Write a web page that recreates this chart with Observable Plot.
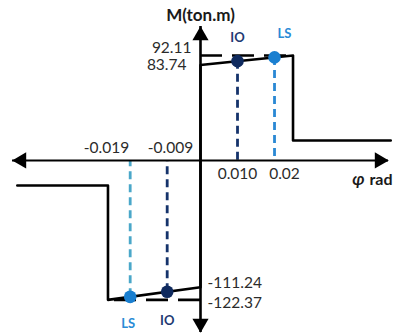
<!DOCTYPE html>
<html>
<head>
<meta charset="utf-8">
<script src="https://cdn.jsdelivr.net/npm/d3@7"></script>
<script src="https://cdn.jsdelivr.net/npm/@observablehq/plot@0.6"></script>
<style>
  html, body { margin: 0; padding: 0; background: #fff; }
  #chart svg { display: block; }
</style>
</head>
<body>
<div id="chart"></div>
<script>
// ---- data ----
// positive backbone (rotation rad, moment ton.m)
const phiPos = [0, 0, 0.025, 0.025, 0.0514];
const mPos   = [0, 83.74, 92.11, 17.5, 17.5];
// negative backbone
const phiNeg = [0, 0, -0.025, -0.025, -0.0495];
const mNeg   = [0, -111.24, -122.37, -22, -22];
// performance levels
const perfLabels = ["IO", "LS", "IO", "LS"];
const perfPhi    = [0.010, 0.02, -0.009, -0.019];
const perfM      = [87.1, 90.4, -115.2, -119.7];
// reference moment lines (capacity)
const capPhi = [0.025, -0.025];
const capM   = [92.11, -122.37];
// tick labels
const xTickLabels = ["0.010", "0.02", "-0.009", "-0.019"];
const xTickValues = [0.010, 0.02, -0.009, -0.019];
const yTickLabels = ["92.11", "83.74", "-111.24", "-122.37"];
const yTickValues = [92.11, 83.74, -111.24, -122.37];
// axis extents
const xExtent = [-0.0508, 0.0508];
const yExtent = [-151, 117.5];
const xTitle = "rad";
const xSymbol = "φ";
const yTitle = "M(ton.m)";

// ---- tables ----
const pos = phiPos.map((x, i) => ({x, y: mPos[i]}));
const neg = phiNeg.map((x, i) => ({x, y: mNeg[i]}));
const perf = perfLabels.map((label, i) => ({label, x: perfPhi[i], y: perfM[i]}));
const caps = capPhi.map((x, i) => ({x, y: capM[i]}));
const xt = xTickLabels.map((t, i) => ({t, x: xTickValues[i]}));
const yt = yTickLabels.map((t, i) => ({t, y: yTickValues[i]}));

const NAVY = "#15336b", TEAL = "#4aa7c9";
const dotColor = d => d.label === "IO" ? "#0f2a5e" : "#1a7fd0";
const dashColor = d => d.label === "IO" ? NAVY : (d.y < 0 ? TEAL : "#2a88d4");
const labColor = d => d.label === "IO" ? "#1f3a73" : "#2a8bd6";
const TXT = "#2b2b2b";

const head = {symbol: "triangle", r: 6, fill: "black", stroke: "none"};
const lab = {x: "x", y: "y", text: "label", fill: labColor, fontWeight: "bold", fontSize: 13};

const chart = Plot.plot({
  width: 398,
  height: 334,
  margin: 0,
  style: {fontFamily: "Lato, 'Open Sans', sans-serif", fontSize: "15.5px", background: "white", color: TXT},
  x: {domain: xExtent, range: [12, 388], axis: null},
  y: {domain: yExtent, range: [332, 26], axis: null},
  color: {type: "identity"},
  marks: [
    // dashed verticals from performance points to axis
    Plot.ruleX(perf, {x: "x", y1: "y", y2: () => 0, stroke: dashColor, strokeWidth: 2.8, strokeDasharray: "8,5"}),
    // dashed capacity lines
    Plot.ruleY(caps, {y: "y", x1: () => 0, x2: "x", stroke: "black", strokeWidth: 2.6, strokeDasharray: "22,10"}),
    // backbones
    Plot.line(pos, {x: "x", y: "y", stroke: "black", strokeWidth: 2.6}),
    Plot.line(neg, {x: "x", y: "y", stroke: "black", strokeWidth: 2.6}),
    // axes
    Plot.ruleY([0], {x1: xExtent[0], x2: xExtent[1], stroke: "black", strokeWidth: 2}),
    Plot.ruleX([0], {y1: yExtent[0], y2: yExtent[1], stroke: "black", strokeWidth: 2.6}),
    Plot.dot([{x: xExtent[1], y: 0}], {x: "x", y: "y", ...head, rotate: 90, dx: -9}),
    Plot.dot([{x: xExtent[0], y: 0}], {x: "x", y: "y", ...head, rotate: -90, dx: 9}),
    Plot.dot([{x: 0, y: yExtent[1]}], {x: "x", y: "y", ...head, rotate: 0, dy: 9}),
    Plot.dot([{x: 0, y: yExtent[0]}], {x: "x", y: "y", ...head, rotate: 180, dy: -9}),
    // performance points
    Plot.dot(perf, {x: "x", y: "y", r: 6.3, fill: dotColor, stroke: "none"}),
    // performance labels
    Plot.text(perf.filter(d => d.y > 0 && d.label === "IO"), {...lab, dy: -23}),
    Plot.text(perf.filter(d => d.y > 0 && d.label === "LS"), {...lab, dy: -24, dx: 10}),
    Plot.text(perf.filter(d => d.y < 0 && d.label === "IO"), {...lab, dy: 29}),
    Plot.text(perf.filter(d => d.y < 0 && d.label === "LS"), {...lab, dy: 27, dx: -2}),
    // x tick labels
    Plot.text(xt.filter(d => d.t === "0.010"), {x: "x", y: () => 0, text: "t", dy: 14, fill: TXT}),
    Plot.text(xt.filter(d => d.t === "0.02"), {x: "x", y: () => 0, text: "t", dy: 14, dx: 10, fill: TXT}),
    Plot.text(xt.filter(d => d.t === "-0.019"), {x: "x", y: () => 0, text: "t", dy: -12, dx: -1, textAnchor: "end", fill: TXT}),
    Plot.text(xt.filter(d => d.t === "-0.009"), {x: "x", y: () => 0, text: "t", dy: -12, dx: 26, textAnchor: "end", fill: TXT}),
    // y tick labels
    Plot.text(yt.filter(d => d.t === "92.11"), {x: () => 0, y: "y", text: "t", dx: -9, dy: -7, textAnchor: "end", fill: TXT}),
    Plot.text(yt.filter(d => d.t === "83.74"), {x: () => 0, y: "y", text: "t", dx: -14, textAnchor: "end", fill: TXT}),
    Plot.text(yt.filter(d => d.t === "-111.24"), {x: () => 0, y: "y", text: "t", dx: 7, dy: -4, textAnchor: "start", fill: TXT}),
    Plot.text(yt.filter(d => d.t === "-122.37"), {x: () => 0, y: "y", text: "t", dx: 7, dy: 3, textAnchor: "start", fill: TXT}),
    // axis titles
    Plot.text([yTitle], {x: () => 0, y: () => yExtent[1], text: d => d, dy: -11, fontWeight: "bold", fontSize: 17, fill: "#1a1a1a"}),
    Plot.text([xTitle], {x: () => xExtent[1], y: () => 0, text: d => d, dx: 4, dy: 19, textAnchor: "end", fontWeight: "bold", fontSize: 16, fill: "#1a1a1a"}),
    Plot.text([xSymbol], {x: () => xExtent[1], y: () => 0, text: d => d, dx: -24, dy: 19, textAnchor: "end", fontWeight: "bold", fontStyle: "italic", fontSize: 17, fill: "#1a1a1a"})
  ]
});
document.getElementById("chart").appendChild(chart);
</script>
</body>
</html>
